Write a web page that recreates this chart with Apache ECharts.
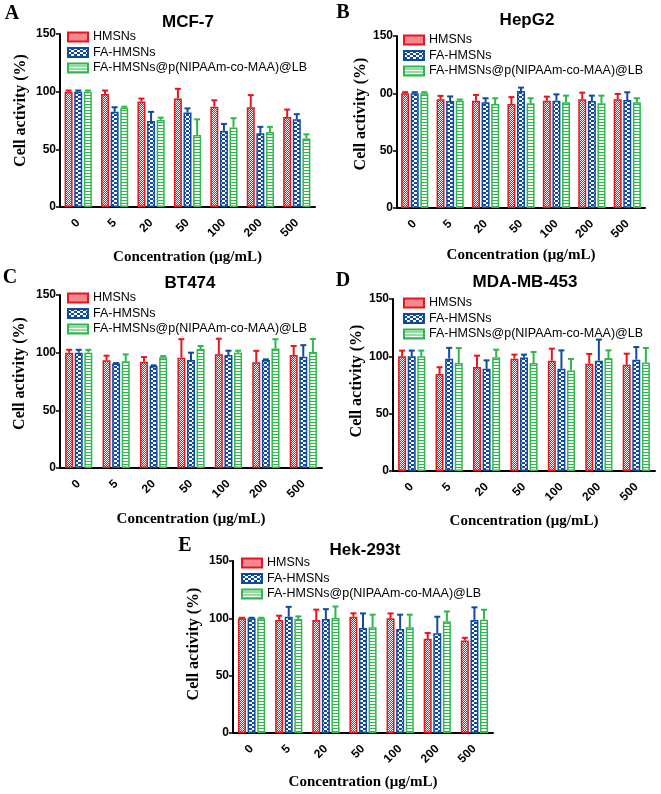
<!DOCTYPE html>
<html><head><meta charset="utf-8">
<script src="https://cdn.jsdelivr.net/npm/echarts@6/dist/echarts.min.js"></script>
<style>html,body{margin:0;padding:0;background:#fff}#c{width:661px;height:794px}</style>
</head><body><div id="c"></div>
<script>
const categories = ['0','5','20','50','100','200','500'];
const seriesNames = ['HMSNs','FA-HMSNs','FA-HMSNs@p(NIPAAm-co-MAA)@LB'];
const yTicksStd = ['0','50','100','150'];
const yTicksB = ['0','50','00','150'];

// Panel A: MCF-7
const hmsnsA = [100, 98, 91.5, 94, 87, 86.5, 78];
const hmsnsErrA = [1, 3, 2.5, 8.5, 5.5, 10.5, 6.5];
const faA = [100, 82.5, 74.5, 82, 66, 64, 76];
const faErrA = [1, 4, 8, 3.5, 6, 5.5, 4.5];
const lbA = [100, 86, 75.5, 62.5, 69, 65, 59.5];
const lbErrA = [1, 1, 2, 13.5, 8, 4.5, 3.5];
// Panel B: HepG2
const hmsnsB = [100, 94.8, 93.6, 90.7, 93.6, 94.8, 94.8];
const hmsnsErrB = [1, 3, 5, 6, 3.5, 5.8, 4.6];
const faB = [100, 93.3, 92.2, 102, 93.6, 93.3, 94.2];
const faErrB = [1, 4, 3.5, 3, 5.5, 4.7, 6.7];
const lbB = [100, 93.6, 90.7, 91.3, 92.2, 91.3, 92.2];
const lbErrB = [1, 1, 5, 4.4, 5.8, 6.7, 3.5];
// Panel C: BT474
const hmsnsC = [100, 93.4, 92.2, 95.7, 98.6, 91.6, 98];
const hmsnsErrC = [2.5, 4, 4, 16, 13.5, 10, 7.8];
const faC = [100, 90.5, 88.5, 93.7, 98, 93.7, 96.5];
const faErrC = [2.5, 0.5, 0.5, 6.3, 3.7, 0.5, 10];
const lbC = [100, 92.5, 96, 103.2, 100, 103.7, 100.6];
const lbErrC = [2.5, 6, 1, 2.6, 1.7, 8, 11.2];
// Panel D: MDA-MB-453
const hmsnsD = [100, 84.5, 90.6, 98, 96.2, 93.6, 92.7];
const hmsnsErrD = [5, 6, 10, 3.5, 10.5, 8.5, 9.6];
const faD = [100, 98, 89.2, 99, 89.2, 96.2, 97.1];
const faErrD = [5, 9.4, 7.3, 2.5, 16, 18.4, 11];
const lbD = [100, 94.2, 99.1, 94.2, 87.7, 98.5, 94.7];
const lbErrD = [5, 13, 6.7, 9.6, 10, 6.7, 12.6];
// Panel E: Hek-293t
const hmsnsE = [100, 98.6, 98.6, 101.4, 100, 82.1, 80.7];
const hmsnsErrE = [0.5, 3.7, 9, 3, 4.3, 5.2, 2.3];
const faE = [100, 101.4, 99.4, 91.6, 90.8, 87, 98.6];
const faErrE = [0.5, 8.6, 8.6, 12.7, 12.4, 14.4, 11];
const lbE = [100, 99.4, 100.3, 92.2, 92.2, 97.4, 98.8];
const lbErrE = [0.5, 2.3, 10, 11, 11, 8.6, 8.7];

const RED = '#e8141e', BLUE = '#0f4aa0', GREEN = '#2eb84b';
const COLORS = [RED, BLUE, GREEN];

function makePattern(kind) {
  const c = document.createElement('canvas');
  let ctx;
  if (kind === 0) {
    c.width = 2; c.height = 2; ctx = c.getContext('2d');
    ctx.fillStyle = RED; ctx.fillRect(0,0,2,2);
    ctx.fillStyle = '#fff'; ctx.fillRect(0,0,1,1); ctx.fillRect(1,1,1,1);
  } else if (kind === 1) {
    c.width = 6; c.height = 4; ctx = c.getContext('2d');
    ctx.fillStyle = BLUE; ctx.fillRect(0,0,6,4);
    ctx.fillStyle = '#fff'; ctx.fillRect(0,0,3,2); ctx.fillRect(3,2,3,2);
  } else {
    c.width = 2; c.height = 3; ctx = c.getContext('2d');
    ctx.fillStyle = '#fff'; ctx.fillRect(0,0,2,3);
    ctx.fillStyle = GREEN; ctx.fillRect(0,2,2,1);
  }
  return {image: c, repeat: 'repeat'};
}
const PATTERNS = [makePattern(0), makePattern(1), makePattern(2)];

const panels = [
  {letter:'A', title:'MCF-7', vals:[hmsnsA,faA,lbA], errs:[hmsnsErrA,faErrA,lbErrA], ticks:yTicksStd,
   grid:{left:60, top:34, width:255, height:173}, legend:{left:67, top:30}, titlePos:[188,22], letterPos:[12,14],
   xGap:43, yGap:31, yShift:20},
  {letter:'B', title:'HepG2', vals:[hmsnsB,faB,lbB], errs:[hmsnsErrB,faErrB,lbErrB], ticks:yTicksB,
   grid:{left:397, top:36, width:248, height:172}, legend:{left:403, top:33}, titlePos:[527,20], letterPos:[343,13],
   xGap:40, yGap:24, yShift:16},
  {letter:'C', title:'BT474', vals:[hmsnsC,faC,lbC], errs:[hmsnsErrC,faErrC,lbErrC], ticks:yTicksStd,
   grid:{left:60, top:295, width:262, height:173}, legend:{left:67, top:291}, titlePos:[190,283], letterPos:[10,278],
   xGap:44, yGap:32, yShift:16},
  {letter:'D', title:'MDA-MB-453', vals:[hmsnsD,faD,lbD], errs:[hmsnsErrD,faErrD,lbErrD], ticks:yTicksStd,
   grid:{left:393, top:299, width:262, height:172}, legend:{left:403, top:296}, titlePos:[525,282], letterPos:[343,281],
   xGap:43, yGap:28, yShift:8},
  {letter:'E', title:'Hek-293t', vals:[hmsnsE,faE,lbE], errs:[hmsnsErrE,faErrE,lbErrE], ticks:yTicksStd,
   grid:{left:233, top:561, width:260, height:172}, legend:{left:241, top:556}, titlePos:[365,550], letterPos:[185,546],
   xGap:42, yGap:31, yShift:6}
];

const BAR_W = 8, BAR_GAP = 1.6;
const grid = [], xAxis = [], yAxis = [], series = [], legend = [], graphic = [];
panels.forEach((p, gi) => {
  grid.push(Object.assign({containLabel:false}, p.grid));
  xAxis.push({
    type:'category', gridIndex:gi, data:categories,
    axisLine:{lineStyle:{color:'#000', width:2}},
    axisTick:{alignWithLabel:true, length:4, lineStyle:{color:'#000', width:1.5}},
    axisLabel:{rotate:45, color:'#000', fontWeight:'bold', fontSize:12, fontFamily:'Liberation Sans, Arial', margin:14},
    name:'Concentration (\u03bcg/mL)', nameLocation:'middle', nameGap:p.xGap,
    nameTextStyle:{color:'#000', fontWeight:'bold', fontSize:15, fontFamily:'Liberation Serif, Times New Roman'}
  });
  const ticks = p.ticks;
  yAxis.push({
    type:'value', gridIndex:gi, min:0, max:150, interval:50,
    splitLine:{show:false},
    axisLine:{show:true, lineStyle:{color:'#000', width:2}},
    axisTick:{show:true, length:4, lineStyle:{color:'#000', width:1.5}},
    axisLabel:{color:'#000', fontWeight:'bold', fontSize:12, fontFamily:'Liberation Sans, Arial', margin:4,
      formatter: v => ticks[Math.round(v/50)]},
    name:'Cell activity (%)', nameLocation:'middle', nameGap:p.yGap, nameRotate:90,
    nameTextStyle:{color:'#000', fontWeight:'bold', fontSize:16, fontFamily:'Liberation Serif, Times New Roman',
      padding:[0,0,0,p.yShift]}
  });
  seriesNames.forEach((nm, si) => {
    series.push({
      type:'bar', name:nm, xAxisIndex:gi, yAxisIndex:gi, data:p.vals[si],
      barWidth:BAR_W, barGap:'20%',
      itemStyle:{color:PATTERNS[si], borderColor:COLORS[si], borderWidth:1.5},
      z:2
    });
  });
  seriesNames.forEach((nm, si) => {
    const vals = p.vals[si], errs = p.errs[si];
    const offset = (si - 1) * (BAR_W + BAR_GAP);
    series.push({
      type:'custom', name:nm + ' err', xAxisIndex:gi, yAxisIndex:gi,
      data: vals.map((v, i) => [i, v, v + errs[i]]),
      encode:{x:0, y:[1,2]},
      z:3, silent:true,
      renderItem:(params, api) => {
        const base = api.coord([api.value(0), api.value(1)]);
        const top = api.coord([api.value(0), api.value(2)]);
        const x = base[0] + offset;
        const style = {stroke:COLORS[si], lineWidth:2};
        return {type:'group', children:[
          {type:'line', shape:{x1:x, y1:base[1], x2:x, y2:top[1]}, style:style},
          {type:'line', shape:{x1:x-3, y1:top[1], x2:x+3, y2:top[1]}, style:style}
        ]};
      }
    });
  });
  legend.push({
    data:seriesNames.map((n, si) => ({name:n, icon:'rect'})), orient:'vertical', left:p.legend.left, top:p.legend.top,
    itemWidth:20, itemHeight:9, itemGap:1.5, selectedMode:false, padding:0,
    textStyle:{color:'#000', fontSize:12.5, lineHeight:14, fontFamily:'Liberation Sans, Arial'}
  });
  graphic.push({type:'text',
    style:{text:p.title, font:'bold 17px "Liberation Sans", Arial', fill:'#000', textAlign:'center', textVerticalAlign:'middle'},
    x:p.titlePos[0], y:p.titlePos[1]});
  graphic.push({type:'text',
    style:{text:p.letter, font:'bold 20px "Liberation Serif", "Times New Roman"', fill:'#000', textAlign:'center', textVerticalAlign:'middle'},
    x:p.letterPos[0], y:p.letterPos[1]});
});

const chart = echarts.init(document.getElementById('c'), null, {renderer:'canvas'});
chart.setOption({animation:false, grid, xAxis, yAxis, series, legend, graphic});
</script></body></html>
